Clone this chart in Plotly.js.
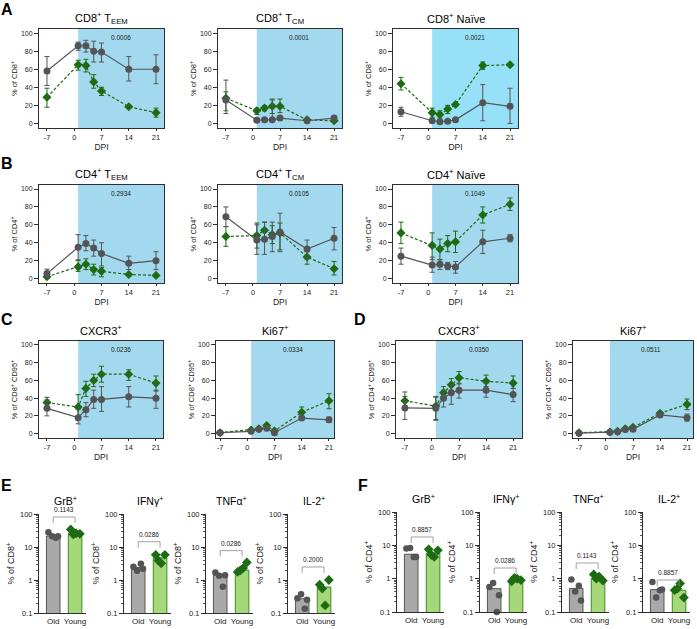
<!DOCTYPE html>
<html><head><meta charset="utf-8">
<script src="https://cdn.plot.ly/plotly-3.0.1.min.js"></script>
<style>html,body{margin:0;padding:0;background:#fff}#chart{width:697px;height:629px}</style>
</head><body><div id="chart"></div>
<script>
// ---------- data ----------
const dpi = [-7, 1, 3, 5, 7, 14, 21];
const dpiTicks = [-7, 0, 7, 14, 21];
const dpiTickText = ['-7', '0', '7', '14', '21'];
const pctTicks = [0, 20, 40, 60, 80, 100];

// A: CD8+ TEEM
const cd8TeemOld = [58, 86, 86, 80, 79, 60, 60];
const cd8TeemOldUp = [16, 4, 6, 11, 10, 14, 16];
const cd8TeemOldDn = [16, 5, 7, 12, 11, 13, 16];
const cd8TeemYoung = [29, 65, 64, 46, 36, 18.5, 12];
const cd8TeemYoungUp = [10, 5, 7, 8, 4, 1.5, 5];
const cd8TeemYoungDn = [11, 6, 7, 7, 5, 1.5, 5];
// A: CD8+ TCM
const cd8TcmOld = [26, 3.7, 4, 4, 6, 3, 6];
const cd8TcmOldUp = [22, 1, 1, 22, 2, 1, 2];
const cd8TcmOldDn = [15, 1, 1, 2, 2, 1, 2];
const cd8TcmYoung = [28, 14, 17, 19, 19, 4, 3];
const cd8TcmYoungUp = [7, 3, 2.5, 8, 8, 1, 1];
const cd8TcmYoungDn = [14, 4, 3, 8, 7, 1, 1];
// A: CD8+ Naive
const cd8NaiveOld = [13, 3, 2, 2.5, 4, 23, 19];
const cd8NaiveOldUp = [5, 1, 1, 1, 2, 20, 20];
const cd8NaiveOldDn = [5, 1, 1, 1, 2, 20, 19];
const cd8NaiveYoung = [44, 12, 10, 16, 21, 64, 65];
const cd8NaiveYoungUp = [7, 5, 4, 4, 2, 4, 1];
const cd8NaiveYoungDn = [7, 5, 4, 5, 2, 4, 1];
// B: CD4+ TEEM
const cd4TeemOld = [5.5, 35, 39, 34, 28, 17, 20];
const cd4TeemOldUp = [5, 14, 9, 9, 12, 8, 10];
const cd4TeemOldDn = [4.5, 14, 8, 9, 14, 7, 10];
const cd4TeemYoung = [2, 13, 16, 10, 8, 4.5, 3.5];
const cd4TeemYoungUp = [1.5, 7, 6, 6, 4, 1, 1];
const cd4TeemYoungDn = [1.5, 5, 6, 6, 6, 1, 1];
// B: CD4+ TCM
const cd4TcmOld = [69, 43, 44, 47, 52, 33, 45];
const cd4TcmOldUp = [11, 17, 19, 16, 21, 10, 12];
const cd4TcmOldDn = [11, 16, 17, 17, 22, 11, 13];
const cd4TcmYoung = [47, 48, 54, 49, 51, 24, 11];
const cd4TcmYoungUp = [11, 14, 9, 10, 11, 6, 8];
const cd4TcmYoungDn = [11, 14, 10, 10, 19, 8, 7];
// B: CD4+ Naive
const cd4NaiveOld = [25, 15, 16, 14, 13, 41, 45];
const cd4NaiveOldUp = [9, 9, 5, 4, 6, 13, 4];
const cd4NaiveOldDn = [9, 8, 6, 4, 7, 13, 4];
const cd4NaiveYoung = [51, 37, 33, 39, 41, 71, 83];
const cd4NaiveYoungUp = [12, 14, 11, 9, 12, 9, 7];
const cd4NaiveYoungDn = [12, 16, 12, 9, 12, 9, 7];
// C: CD8+ CD95+ CXCR3+
const cd8CxcrOld = [28.5, 18, 27, 38.5, 38.5, 41.5, 40];
const cd8CxcrOldUp = [9.5, 9, 8, 10.5, 14.5, 11.5, 9];
const cd8CxcrOldDn = [8.5, 7, 8, 10, 13.5, 11.5, 11.5];
const cd8CxcrYoung = [35, 30, 51, 60, 67, 67, 57];
const cd8CxcrYoungUp = [6, 14, 8, 7, 9, 5, 8];
const cd8CxcrYoungDn = [5, 14, 9, 7, 9, 7, 9];
// C: CD8+ CD95+ Ki67+
const cd8KiOld = [1, 2.5, 5, 6, 1, 17.5, 15.5];
const cd8KiOldUp = [0.5, 1, 1, 1.5, 0.5, 2, 3];
const cd8KiOldDn = [0.5, 1, 1, 1.5, 0.5, 2, 3];
const cd8KiYoung = [1, 4, 5.5, 9, 3, 24, 37];
const cd8KiYoungUp = [0.5, 1, 1, 2, 1, 6, 8];
const cd8KiYoungDn = [0.5, 1, 1, 2, 1, 6, 9];
// D: CD4+ CD95+ CXCR3+
const cd4CxcrOld = [29, 28.5, 40, 46, 49, 49, 44];
const cd4CxcrOldUp = [18, 13.5, 9, 10, 8, 8, 7];
const cd4CxcrOldDn = [13, 13.5, 10, 13, 9, 8, 8];
const cd4CxcrYoung = [37, 31, 46, 55, 63, 59, 57];
const cd4CxcrYoungUp = [5, 10, 7, 7, 7, 7, 8];
const cd4CxcrYoungDn = [6, 15, 6, 6, 7, 6, 6];
// D: CD4+ CD95+ Ki67+
const cd4KiOld = [0.5, 1.5, 2, 4.5, 5, 21, 18];
const cd4KiOldUp = [0.5, 0.5, 1, 1.5, 2.5, 2, 4];
const cd4KiOldDn = [0.5, 0.5, 1, 1.5, 2.5, 2, 4];
const cd4KiYoung = [1, 1.8, 2.5, 5.5, 7, 23, 33];
const cd4KiYoungUp = [0.5, 0.5, 1, 1.5, 2, 1.5, 6];
const cd4KiYoungDn = [0.5, 0.5, 1, 1.5, 2, 1.5, 6];

// E/F bar panels
const groups = ['Old', 'Young'];
const logTickVals = [0.1, 1, 10, 100];
const logTickText = ['0.1', '1', '10', '100'];
// E: CD8+
const cd8GrbBars = [21.5, 26.5];
const cd8GrbOldDots = [28, 19, 21, 21];
const cd8GrbYoungDots = [34, 26, 25, 24];
const cd8IfngBars = [2.4, 4.7];
const cd8IfngOldDots = [2.5, 3.1, 1.9, 2.2];
const cd8IfngYoungDots = [5.8, 3.2, 5.8, 3.9];
const cd8TnfBars = [1.4, 2.0];
const cd8TnfOldDots = [1.7, 0.62, 1.35, 1.4];
const cd8TnfYoungDots = [1.75, 2.3, 3.4, 1.95];
const cd8Il2Bars = [0.27, 0.61];
const cd8Il2OldDots = [0.28, 0.135, 0.37, 0.25];
const cd8Il2YoungDots = [0.72, 0.17, 1.0, 0.55];
// F: CD4+
const cd4GrbBars = [5.4, 5.8];
const cd4GrbOldDots = [8, 4.5, 8.3, 4.5];
const cd4GrbYoungDots = [7.6, 4.5, 7.1, 5.2];
const cd4IfngBars = [0.5, 1.0];
const cd4IfngOldDots = [0.56, 0.1, 0.74, 0.32];
const cd4IfngYoungDots = [0.83, 1.0, 0.9, 1.05];
const cd4TnfBars = [0.51, 1.02];
const cd4TnfOldDots = [0.95, 0.61, 0.41, 0.22];
const cd4TnfYoungDots = [1.34, 1.15, 0.87, 1.0];
const cd4Il2Bars = [0.47, 0.45];
const cd4Il2OldDots = [0.8, 0.45, 0.27, 0.47];
const cd4Il2YoungDots = [0.45, 0.72, 0.27, 0.5];

const pLine = ['0.0006', '0.0001', '0.0021', '0.2934', '0.0105', '0.1049', '0.0236', '0.0334', '0.0350', '0.0511'];
const pBarE = ['0.1143', '0.0286', '0.0286', '0.2000'];
const pBarF = ['0.8857', '0.0286', '0.1143', '0.8857'];

// ---------- styling & layout helpers ----------
const W = 697, H = 629;
const FONT = 'Liberation Sans, Arial, Helvetica, sans-serif';
const GREY = '#545456', GREEN = '#1d6b12';
const SHADE = '#a3d9ee', SHADE2 = '#97e1f8';
const AXC = '#2f2f2f';
const xd = (a, b) => [a / W, b / W];
const yd = (t, b) => [1 - b / H, 1 - t / H];

const traces = [];
const layout = {
  width: W, height: H, margin: {l: 0, r: 0, t: 0, b: 0},
  paper_bgcolor: '#fff', plot_bgcolor: 'rgba(0,0,0,0)',
  showlegend: false, font: {family: FONT, color: '#111'},
  annotations: [], shapes: []
};
let axN = 0;
function axNames() {
  axN += 1;
  const s = axN === 1 ? '' : String(axN);
  return {x: 'x' + s, y: 'y' + s, xa: 'xaxis' + s, ya: 'yaxis' + s};
}

function linePanel(box, xr, title, ytitle, p, shade, old, oldUp, oldDn, young, youngUp, youngDn) {
  const a = axNames();
  const [l, r, t, b] = box;
  layout[a.xa] = {
    domain: xd(l, r), anchor: a.y, range: xr, tickmode: 'array', tickvals: dpiTicks, ticktext: dpiTickText,
    ticks: 'outside', ticklen: 2,
    tickwidth: 1, tickcolor: AXC, showline: true, mirror: true, linecolor: AXC, linewidth: 1,
    showgrid: false, zeroline: false, tickfont: {size: 7.5, color: '#222'},
    title: {text: 'DPI', font: {size: 8.5, color: '#222'}, standoff: 1}
  };
  layout[a.ya] = {
    domain: yd(t, b), anchor: a.x, range: [-5, 104.5], tickvals: pctTicks, ticks: 'outside', ticklen: 4,
    tickwidth: 1, tickcolor: AXC, showline: true, mirror: true, linecolor: AXC, linewidth: 1,
    showgrid: false, zeroline: false, tickfont: {size: 7, color: '#222'},
    title: {text: ytitle, font: {size: 7.5, color: '#222'}, standoff: 2}
  };
  layout.shapes.push({type: 'rect', xref: a.x, yref: a.y + ' domain', x0: 1, x1: xr[1], y0: 0, y1: 1,
    fillcolor: shade, line: {width: 0}, layer: 'below'});
  layout.annotations.push({xref: a.x, yref: a.y + ' domain', x: (1 + xr[1]) / 2, y: 0.915, text: p,
    showarrow: false, font: {size: 6.5, color: '#222'}, yanchor: 'middle'});
  layout.annotations.push({xref: 'paper', yref: 'paper', x: (l + r) / 2 / W, y: 1 - (t - 11) / H, text: title,
    showarrow: false, font: {size: 11, color: '#000'}, yanchor: 'middle', xanchor: 'center'});
  traces.push({type: 'scatter', mode: 'lines+markers', x: dpi, y: young, xaxis: a.x, yaxis: a.y,
    line: {color: GREEN, width: 1.2, dash: '3px,2px'}, marker: {symbol: 'diamond', size: 7, color: GREEN},
    error_y: {type: 'data', symmetric: false, array: youngUp, arrayminus: youngDn, color: GREEN, thickness: 1, width: 2.5}});
  traces.push({type: 'scatter', mode: 'lines+markers', x: dpi, y: old, xaxis: a.x, yaxis: a.y,
    line: {color: GREY, width: 1.2}, marker: {symbol: 'circle', size: 7, color: GREY},
    error_y: {type: 'data', symmetric: false, array: oldUp, arrayminus: oldDn, color: GREY, thickness: 1, width: 2.5}});
}

const minorVals = [];
[0.1, 1, 10].forEach(d => { for (let k = 2; k <= 9; k++) minorVals.push(d * k); });
const jitterOld = [-0.22, 0.12, -0.05, 0.22];
const jitterYoung = [-0.2, 0.05, 0.22, -0.08];

function barPanel(box, title, ytitle, p, brk, bars, oldDots, youngDots) {
  const a = axNames();
  const [l, r, t, b] = box;
  layout[a.xa] = {
    domain: xd(l, r), anchor: a.y, range: [-0.65, 1.5], tickvals: [0, 1], ticktext: groups, ticks: '',
    showline: true, linecolor: AXC, linewidth: 1, showgrid: false, zeroline: false,
    tickfont: {size: 8, color: '#222'}
  };
  layout[a.ya] = {
    domain: yd(t, b), anchor: a.x, type: 'log', range: [-1, 2], tickvals: logTickVals, ticktext: logTickText,
    ticks: 'outside', ticklen: 4, tickwidth: 1, tickcolor: AXC, showline: true, linecolor: AXC, linewidth: 1,
    showgrid: false, zeroline: false, tickfont: {size: 7.5, color: '#222'},
    minor: {tickmode: 'array', tickvals: minorVals, ticks: 'outside', ticklen: 2, tickwidth: 0.8, tickcolor: AXC},
    title: {text: ytitle, font: {size: 9, color: '#222'}, standoff: 3}
  };
  traces.push({type: 'bar', x: [0, 1], y: bars, width: 0.62, xaxis: a.x, yaxis: a.y,
    marker: {color: ['#a9a9a9', '#a5d879'], line: {color: ['#555557', '#3d8a26'], width: 1}}});
  traces.push({type: 'scatter', mode: 'markers', x: jitterOld.map(j => 0 + j), y: oldDots, xaxis: a.x, yaxis: a.y,
    cliponaxis: false, marker: {symbol: 'circle', size: 6.5, color: GREY}});
  traces.push({type: 'scatter', mode: 'markers', x: jitterYoung.map(j => 1 + j), y: youngDots, xaxis: a.x, yaxis: a.y,
    cliponaxis: false, marker: {symbol: 'diamond', size: 7.5, color: GREEN}});
  layout.shapes.push({type: 'path', xref: a.x, yref: a.y + ' domain',
    path: `M 0,${brk - 0.06} L 0,${brk} L 1,${brk} L 1,${brk - 0.06}`, line: {color: '#8a8a8a', width: 0.8}});
  layout.annotations.push({xref: a.x, yref: a.y + ' domain', x: 0.5, y: brk + 0.02, yanchor: 'bottom', text: p,
    showarrow: false, font: {size: 6.5, color: '#222'}});
  layout.annotations.push({xref: 'paper', yref: 'paper', x: ((l + 15) + (l + 37)) / 2 / W, y: 1 - (t - 14) / H,
    text: title, showarrow: false, font: {size: 10.5, color: '#000'}, yanchor: 'middle', xanchor: 'center'});
}

// ---------- panels ----------
const yCD8 = '% of CD8<sup>+</sup>', yCD4 = '% of CD4<sup>+</sup>';
const rA = [29, 128], rB = [185, 283], rC = [341, 438];
const c1 = [39, 164], c2 = [218, 342], c3 = [393, 518];
const xrStd = [-9.05, 23.05];

linePanel([...c1, ...rA], xrStd, 'CD8<sup>+</sup> T<sub>EEM</sub>', yCD8, pLine[0], SHADE, cd8TeemOld, cd8TeemOldUp, cd8TeemOldDn, cd8TeemYoung, cd8TeemYoungUp, cd8TeemYoungDn);
linePanel([...c2, ...rA], xrStd, 'CD8<sup>+</sup> T<sub>CM</sub>', yCD8, pLine[1], SHADE, cd8TcmOld, cd8TcmOldUp, cd8TcmOldDn, cd8TcmYoung, cd8TcmYoungUp, cd8TcmYoungDn);
linePanel([...c3, ...rA], xrStd, 'CD8<sup>+</sup> Naïve', yCD8, pLine[2], SHADE2, cd8NaiveOld, cd8NaiveOldUp, cd8NaiveOldDn, cd8NaiveYoung, cd8NaiveYoungUp, cd8NaiveYoungDn);
linePanel([...c1, ...rB], xrStd, 'CD4<sup>+</sup> T<sub>EEM</sub>', yCD4, pLine[3], SHADE, cd4TeemOld, cd4TeemOldUp, cd4TeemOldDn, cd4TeemYoung, cd4TeemYoungUp, cd4TeemYoungDn);
linePanel([...c2, ...rB], xrStd, 'CD4<sup>+</sup> T<sub>CM</sub>', yCD4, pLine[4], SHADE, cd4TcmOld, cd4TcmOldUp, cd4TcmOldDn, cd4TcmYoung, cd4TcmYoungUp, cd4TcmYoungDn);
linePanel([...c3, ...rB], xrStd, 'CD4<sup>+</sup> Naïve', yCD4, pLine[5], SHADE, cd4NaiveOld, cd4NaiveOldUp, cd4NaiveOldDn, cd4NaiveYoung, cd4NaiveYoungUp, cd4NaiveYoungDn);
linePanel([39, 163, ...rC], [-9.05, 22.8], 'CXCR3<sup>+</sup>', '% of CD8<sup>+</sup> CD95<sup>+</sup>', pLine[6], SHADE, cd8CxcrOld, cd8CxcrOldUp, cd8CxcrOldDn, cd8CxcrYoung, cd8CxcrYoungUp, cd8CxcrYoungDn);
linePanel([216, 334, ...rC], [-8.03, 22.3], 'Ki67<sup>+</sup>', '% of CD8<sup>+</sup> CD95<sup>+</sup>', pLine[7], SHADE, cd8KiOld, cd8KiOldUp, cd8KiOldDn, cd8KiYoung, cd8KiYoungUp, cd8KiYoungDn);
linePanel([396, 522, ...rC], [-9.3, 23.3], 'CXCR3<sup>+</sup>', '% of CD4<sup>+</sup> CD95<sup>+</sup>', pLine[8], SHADE, cd4CxcrOld, cd4CxcrOldUp, cd4CxcrOldDn, cd4CxcrYoung, cd4CxcrYoungUp, cd4CxcrYoungDn);
linePanel([573, 693, ...rC], [-8.55, 22.55], 'Ki67<sup>+</sup>', '% of CD4<sup>+</sup> CD95<sup>+</sup>', pLine[9], SHADE, cd4KiOld, cd4KiOldUp, cd4KiOldDn, cd4KiYoung, cd4KiYoungUp, cd4KiYoungDn);

const rE = [514, 613], rF = [512, 612];
const bw = 47;
barPanel([39, 39 + bw, ...rE], 'GrB<sup>+</sup>', yCD8, pBarE[0], 0.97, cd8GrbBars, cd8GrbOldDots, cd8GrbYoungDots);
barPanel([124, 124 + bw, ...rE], 'IFNγ<sup>+</sup>', yCD8, pBarE[1], 0.72, cd8IfngBars, cd8IfngOldDots, cd8IfngYoungDots);
barPanel([206, 206 + bw, ...rE], 'TNFα<sup>+</sup>', yCD8, pBarE[2], 0.63, cd8TnfBars, cd8TnfOldDots, cd8TnfYoungDots);
barPanel([288, 288 + bw, ...rE], 'IL-2<sup>+</sup>', yCD8, pBarE[3], 0.465, cd8Il2Bars, cd8Il2OldDots, cd8Il2YoungDots);
barPanel([397, 397 + bw, ...rF], 'GrB<sup>+</sup>', yCD4, pBarF[0], 0.75, cd4GrbBars, cd4GrbOldDots, cd4GrbYoungDots);
barPanel([480, 480 + bw, ...rF], 'IFNγ<sup>+</sup>', yCD4, pBarF[1], 0.44, cd4IfngBars, cd4IfngOldDots, cd4IfngYoungDots);
barPanel([562, 562 + bw, ...rF], 'TNFα<sup>+</sup>', yCD4, pBarF[2], 0.49, cd4TnfBars, cd4TnfOldDots, cd4TnfYoungDots);
barPanel([643, 643 + bw, ...rF], 'IL-2<sup>+</sup>', yCD4, pBarF[3], 0.32, cd4Il2Bars, cd4Il2OldDots, cd4Il2YoungDots);

// panel letters
[['A', 7, 9], ['B', 7, 163], ['C', 7, 319], ['D', 360, 319], ['E', 7, 485], ['F', 363, 485]].forEach(([s, x, y]) => {
  layout.annotations.push({xref: 'paper', yref: 'paper', x: x / W, y: 1 - y / H, text: '<b>' + s + '</b>',
    showarrow: false, font: {size: 16, color: '#000'}, xanchor: 'center', yanchor: 'middle'});
});

Plotly.newPlot('chart', traces, layout, {displayModeBar: false, staticPlot: true});
</script></body></html>
